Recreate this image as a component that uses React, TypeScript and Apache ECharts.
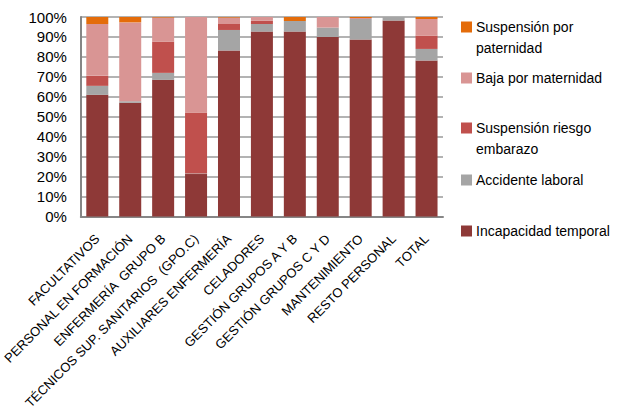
import React, { useEffect, useRef } from "react";
import * as echarts from "echarts";

// Staff categories along the x axis
const categories = [
  "FACULTATIVOS",
  "PERSONAL EN FORMACIÓN",
  "ENFERMERÍA  GRUPO B",
  "TÉCNICOS SUP. SANITARIOS  (GPO.C)",
  "AUXILIARES ENFERMERÍA",
  "CELADORES",
  "GESTIÓN GRUPOS A Y B",
  "GESTIÓN GRUPOS C Y D",
  "MANTENIMIENTO",
  "RESTO PERSONAL",
  "TOTAL",
];

// Share of each absence type per category (%)
const incapacidadTemporal = [61, 57, 68.5, 21.3, 83.2, 92.7, 92.7, 90, 88.7, 98.2, 78.2];
const accidenteLaboral = [4.5, 0.8, 3.5, 0.3, 10.3, 3.8, 5.3, 4.7, 10.3, 1.8, 5.8];
const suspensionRiesgo = [5, 0, 15.7, 30.6, 3, 1.6, 0, 0, 0, 0, 6.7];
const bajaMaternidad = [26, 39.5, 12, 47.8, 3.2, 1.9, 0, 5.3, 0.5, 0, 8.3];
const suspensionPaternidad = [3.5, 2.7, 0.3, 0, 0.3, 0, 2, 0, 0.5, 0, 1];

const yTicks = [0, 10, 20, 30, 40, 50, 60, 70, 80, 90, 100];

const seriesDefs = [
  { name: "Incapacidad temporal", label: "Incapacidad temporal", color: "#8E3937", data: incapacidadTemporal },
  { name: "Accidente laboral", label: "Accidente laboral", color: "#A5A5A5", data: accidenteLaboral },
  { name: "Suspensión riesgo embarazo", label: "Suspensión riesgo\nembarazo", color: "#C0504D", data: suspensionRiesgo },
  { name: "Baja por maternidad", label: "Baja por maternidad", color: "#D99594", data: bajaMaternidad },
  { name: "Suspensión por paternidad", label: "Suspensión por\npaternidad", color: "#E46C0A", data: suspensionPaternidad },
];

// Legend rows, top to bottom (centre of the first text line)
const legendRowsY = [231, 180, 128, 78, 27];

const FONT = "'Liberation Sans', Arial, sans-serif";

export default function App() {
  const ref = useRef<HTMLDivElement>(null);

  useEffect(() => {
    if (!ref.current) return;
    const chart = echarts.init(ref.current, null, { renderer: "svg" });

    const legendGraphics: any[] = [];
    seriesDefs.forEach((s, i) => {
      const cy = legendRowsY[i];
      legendGraphics.push({
        type: "rect",
        left: 461,
        top: cy - 5.5,
        shape: { width: 11, height: 11 },
        style: { fill: s.color },
      });
      legendGraphics.push({
        type: "text",
        left: 476,
        top: cy - 10.5,
        style: {
          text: s.label,
          font: `14px ${FONT}`,
          fill: "#000",
          lineHeight: 21,
        },
      });
    });

    chart.setOption({
      animation: false,
      textStyle: { fontFamily: FONT },
      grid: { left: 64, top: 17, right: 179, bottom: 195 },
      xAxis: {
        type: "category",
        data: categories,
        axisLine: { lineStyle: { color: "#868686", width: 2 } },
        axisTick: { show: false },
        axisLabel: {
          rotate: 45,
          interval: 0,
          margin: 20,
          fontSize: 13,
          color: "#000",
          fontFamily: FONT,
        },
      },
      yAxis: {
        type: "value",
        min: yTicks[0],
        max: yTicks[yTicks.length - 1],
        interval: 10,
        axisLine: { show: true, lineStyle: { color: "#868686", width: 2 } },
        axisTick: { show: false },
        splitLine: { lineStyle: { color: "#9A9A9A", width: 1.5 } },
        axisLabel: {
          formatter: "{value}%",
          fontSize: 15,
          color: "#000",
          margin: 14,
          fontFamily: FONT,
        },
      },
      series: seriesDefs.map((s) => ({
        name: s.name,
        type: "bar",
        stack: "total",
        barWidth: 22,
        data: s.data,
        itemStyle: { color: s.color },
      })),
      graphic: legendGraphics,
    });

    return () => chart.dispose();
  }, []);

  return (
    <div
      ref={ref}
      style={{ position: "absolute", left: 0, top: 0, width: 622, height: 412 }}
    />
  );
}
